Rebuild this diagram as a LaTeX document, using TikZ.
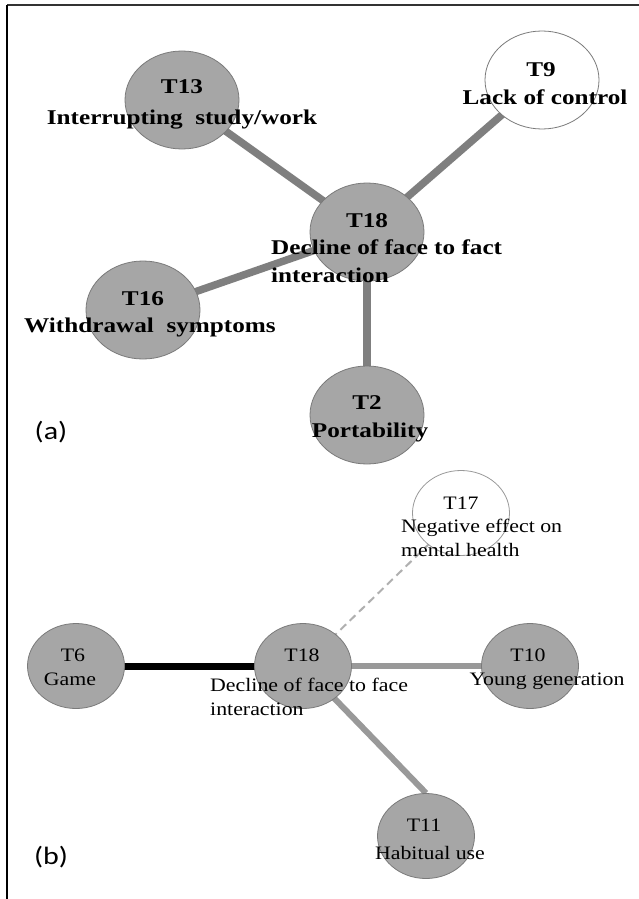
\documentclass[tikz,border=0pt]{standalone}
\usepackage{fontspec}
\setmainfont{Liberation Serif}
\newfontfamily\topfont[FakeStretch=1.2]{Liberation Serif}
\newfontfamily\botfont[FakeStretch=1.15]{Liberation Serif}
\newfontfamily\panelfont[FakeStretch=1.2]{Carlito}
\usetikzlibrary{shapes.geometric}
\pgfdeclarelayer{bg}
\pgfsetlayers{bg,main}
\definecolor{nodefill}{HTML}{A6A6A6}
\definecolor{nodeline}{HTML}{7A7A7A}
\definecolor{edgedark}{HTML}{7F7F7F}
\definecolor{edgelight}{HTML}{999999}
\definecolor{edgedash}{HTML}{B0B0B0}
\definecolor{framecol}{HTML}{333333}
\tikzset{
  topnode/.style={ellipse, draw=nodeline, fill=nodefill, line width=0.8pt,
    minimum width=114pt, minimum height=98pt, inner sep=0pt},
  topwhite/.style={topnode, fill=white},
  botnode/.style={ellipse, draw=nodeline, fill=nodefill, line width=0.8pt,
    minimum width=97pt, minimum height=85pt, inner sep=0pt},
  botwhite/.style={botnode, fill=white, draw=edgelight},
  toptxt/.style={font=\topfont\bfseries\fontsize{21}{27}\selectfont,
    inner sep=0pt, text height=14pt, text depth=0pt},
  bottxt/.style={font=\botfont\fontsize{19}{24}\selectfont,
    inner sep=0pt, text height=12.6pt, text depth=0pt},
  paneltxt/.style={font=\panelfont\fontsize{25}{30}\selectfont,
    inner sep=0pt, text height=18.75pt, text depth=5pt},
  thickedge/.style={draw=edgedark, line width=7.5pt},
  grayedge/.style={draw=edgelight, line width=6pt},
  blackedge/.style={draw=black, line width=7pt},
  dashedge/.style={draw=edgedash, line width=2pt, dash pattern=on 8pt off 5pt}
}
\begin{document}
\begin{tikzpicture}[x=1pt, y=-1pt]
\useasboundingbox (0,0) rectangle (639,899);
\begin{pgfonlayer}{bg}
  \fill[white] (0,0) rectangle (639,899);
\end{pgfonlayer}
% frame
\draw[framecol, line width=1.6pt] (639,5) -- (7,5);
\draw[black, line width=1.8pt] (7,5) -- (7,899);

% ---------- panel (a) ----------
\node[topnode]  (a13) at (182,100) {};
\node[topwhite] (a9)  at (542,80)  {};
\node[topnode]  (a18) at (367,232) {};
\node[topnode]  (a16) at (143,310) {};
\node[topnode]  (a2)  at (367,415) {};

\begin{pgfonlayer}{bg}
  \draw[thickedge] (a13.center) -- (a18.center);
  \draw[thickedge] (a9.center) -- (a18.center);
  \draw[thickedge] (a16.center) -- (a18.center);
  \draw[thickedge] (a18.center) -- (a2.center);
\end{pgfonlayer}

\node[toptxt] (a13t) at (182,86) {T13};
\node[toptxt] (a13l) at (182,117) {Interrupting\ \ study/work};
\node[toptxt] (a9t)  at (541,70) {T9};
\node[toptxt] (a9l)  at (545,97) {Lack of control};
\node[toptxt] (a18t) at (367,220) {T18};
\node[toptxt, anchor=west] (a18l) at (271,247) {Decline of face to fact};
\node[toptxt, anchor=west] (a18m) at (271,275) {interaction};
\node[toptxt] (a16t) at (143,298) {T16};
\node[toptxt] (a16l) at (150,325) {Withdrawal\ \ symptoms};
\node[toptxt] (a2t)  at (367,402) {T2};
\node[toptxt] (a2l)  at (370,430) {Portability};
\node[paneltxt] (pa) at (51,433) {(a)};

% ---------- panel (b) ----------
\node[botwhite] (b17) at (461,513) {};
\node[botnode]  (b6)  at (76,666)  {};
\node[botnode]  (b18) at (303,666) {};
\node[botnode]  (b10) at (530,666) {};
\node[botnode]  (b11) at (426,836) {};

\begin{pgfonlayer}{bg}
  \draw[dashedge]  (b18.center) -- (b17.center);
  \draw[blackedge] (b6.center) -- (b18.center);
  \draw[grayedge]  (b18.center) -- (b10.center);
  \draw[grayedge]  (b18.center) -- (b11.north);
\end{pgfonlayer}

\node[bottxt] (b17t) at (461,503) {T17};
\node[bottxt, anchor=west] (b17l) at (401,526) {Negative effect on};
\node[bottxt, anchor=west] (b17m) at (401,550) {mental health};
\node[bottxt] (b6t)  at (73,655) {T6};
\node[bottxt] (b6l)  at (70,679) {Game};
\node[bottxt] (b18t) at (302,655) {T18};
\node[bottxt, anchor=west] (b18l) at (210,685) {Decline of face to face};
\node[bottxt, anchor=west] (b18m) at (210,709) {interaction};
\node[bottxt] (b10t) at (528,655) {T10};
\node[bottxt] (b10l) at (547,679) {Young generation};
\node[bottxt] (b11t) at (424,825) {T11};
\node[bottxt] (b11l) at (430,853) {Habitual use};
\node[paneltxt] (pb) at (51,858) {(b)};
\end{tikzpicture}
\end{document}
